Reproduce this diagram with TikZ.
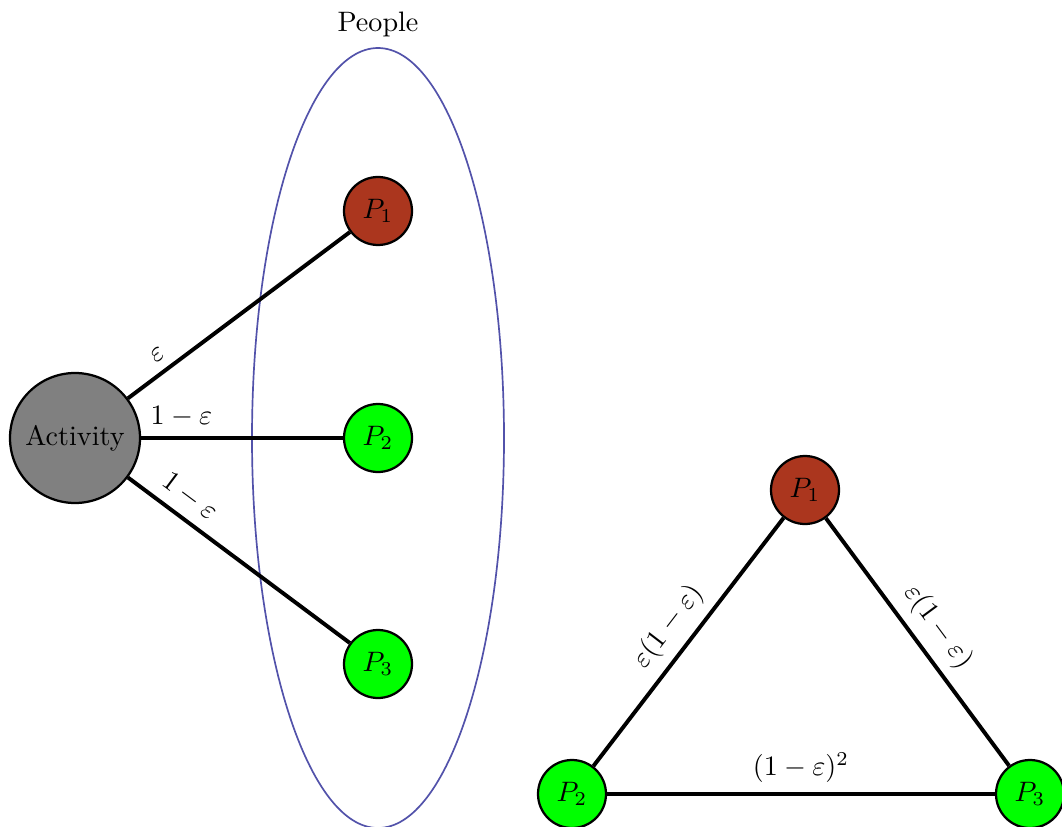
\documentclass[tikz,border=0pt]{standalone}
\usepackage{amsmath,amssymb}
\usepackage{tikz}
\usetikzlibrary{arrows.meta,positioning,shapes}
\usepackage{xcolor}
\definecolor{pone}{RGB}{171,54,30}
\definecolor{pgreen}{RGB}{0,255,0}
\definecolor{people}{RGB}{82,82,170}

\begin{document}
\begin{tikzpicture}[
  person/.style={draw, thick, circle, minimum size=0.85cm, inner sep=0pt},
  act/.style={draw, thick, circle, fill=gray, minimum size=1.625cm, inner sep=0pt},
  link/.style={line width=1.4pt, black},
]
\useasboundingbox (0,0) rectangle (13.275,-10.3375);

% People group
\draw[people, semithick] (4.725,-5.475) ellipse (1.575cm and 4.875cm);
\node at (4.725,-0.3) (grp) {People};

% Nodes (left)
\node[act] (act) at (0.9375,-5.475) {Activity};
\node[person, fill=pone] (a1) at (4.725,-2.6375) {$P_1$};
\node[person, fill=pgreen] (a2) at (4.725,-5.475) {$P_2$};
\node[person, fill=pgreen] (a3) at (4.725,-8.3) {$P_3$};

% Links (left)
\draw[link] (act) -- node[sloped, above, pos=0.18] {$\varepsilon$} (a1);
\draw[link] (act) -- node[above, pos=0.2] {$1-\varepsilon$} (a2);
\draw[link] (act) -- node[sloped, above, pos=0.22] {$1-\varepsilon$} (a3);

% Nodes (right)
\node[person, fill=pone] (b1) at (10.0625,-6.125) {$P_1$};
\node[person, fill=pgreen] (b2) at (7.15,-9.925) {$P_2$};
\node[person, fill=pgreen] (b3) at (12.875,-9.925) {$P_3$};

% Links (right)
\draw[link] (b2) -- node[sloped, above] {$\varepsilon(1-\varepsilon)$} (b1);
\draw[link] (b1) -- node[sloped, above] {$\varepsilon(1-\varepsilon)$} (b3);
\draw[link] (b2) -- node[above] {$(1-\varepsilon)^2$} (b3);
\end{tikzpicture}
\end{document}
